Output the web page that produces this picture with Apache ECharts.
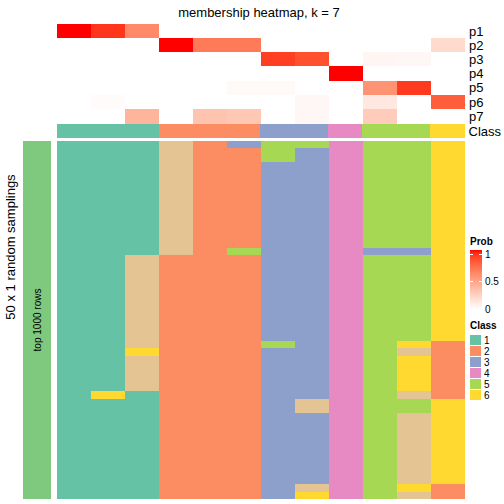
<!DOCTYPE html>
<html>
<head>
<meta charset="utf-8">
<script src="https://cdn.jsdelivr.net/npm/echarts@6/dist/echarts.min.js"></script>
<style>html,body{margin:0;padding:0;background:#fff}#c{width:504px;height:504px}#c svg path{shape-rendering:crispEdges}</style>
</head>
<body>
<div id="c"></div>
<script>
// ---- data ----
const columns = ['s1','s2','s3','s4','s5','s6','s7','s8','s9','s10','s11','s12'];
const probRows = ['p1','p2','p3','p4','p5','p6','p7'];
const p1 = [1.00, 0.92, 0.60, 0, 0, 0, 0, 0, 0, 0, 0, 0];
const p2 = [0, 0, 0, 1.00, 0.67, 0.67, 0, 0, 0, 0, 0, 0.19];
const p3 = [0, 0, 0, 0, 0, 0, 0.90, 0.84, 0, 0.05, 0.04, 0];
const p4 = [0, 0, 0, 0, 0, 0, 0, 0, 1.00, 0, 0, 0];
const p5 = [0, 0, 0, 0, 0, 0.03, 0.03, 0, 0, 0.55, 0.91, 0];
const p6 = [0, 0.02, 0, 0, 0, 0, 0, 0.04, 0, 0.12, 0, 0.79];
const p7 = [0, 0, 0.39, 0, 0.31, 0.29, 0, 0.04, 0, 0.27, 0, 0];
const classRow = [1, 1, 1, 2, 2, 2, 3, 3, 4, 5, 5, 6];
// 50 random samplings: one string per column, one char per sampling (row), 7 = unassigned class
const samplingCols = [
  '11111111111111111111111111111111111111111111111111',
  '11111111111111111111111111111111111611111111111111',
  '11111111111111117777777777777677777111111111111111',
  '77777777777777772222222222222222222222222222222222',
  '22222222222222222222222222222222222222222222222222',
  '32222222222222252222222222222222222222222222222222',
  '55533333333333333333333333335333333333333333333333',
  '53333333333333333333333333333333333377333333333376',
  '44444444444444444444444444444444444444444444444444',
  '55555555555555535555555555555555555555555555555555',
  '55555555555555535555555555556766666755777777777767',
  '66666666666666666666666666662222222266666666666622'
];
const classLabels = ['1','2','3','4','5','6'];
const classColors = ['#66C2A5','#FC8D62','#8DA0CB','#E78AC3','#A6D854','#FFD92F'];
const probTicks = ['1','0.5','0'];

// ---- colour ramp white -> red in LAB ----
function lab2rgb(L,a,b){
  const fy=(L+16)/116, fx=fy+a/500, fz=fy-b/200;
  const f=t=> t*t*t>0.008856 ? t*t*t : (t-16/116)/7.787;
  const X=0.95047*f(fx), Y=f(fy), Z=1.08883*f(fz);
  const r=3.2406*X-1.5372*Y-0.4986*Z, g=-0.9689*X+1.8758*Y+0.0415*Z, bb=0.0557*X-0.2040*Y+1.0570*Z;
  const gam=c=>{c=Math.min(1,Math.max(0,c));return Math.round(255*(c<=0.0031308?12.92*c:1.055*Math.pow(c,1/2.4)-0.055));};
  return 'rgb('+gam(r)+','+gam(g)+','+gam(bb)+')';
}
const ramp=[];
for(let i=0;i<=20;i++){const t=i/20;ramp.push(lab2rgb(100-t*(100-53.24),t*80.09,t*67.20));}

const probAll=[p1,p2,p3,p4,p5,p6,p7];
const probData=[];
probAll.forEach((row,r)=>row.forEach((v,c)=>probData.push([c,r,v])));
const classData=classRow.map((v,c)=>[c,0,v]);
const rowIdx=[];for(let i=0;i<50;i++)rowIdx.push(String(i));
const mainData=[];
samplingCols.forEach((s,c)=>{for(let r=0;r<s.length;r++)mainData.push([c,r,+s[r]]);});

const FONT="'Liberation Sans', Arial, sans-serif";
const chart=echarts.init(document.getElementById('c'),null,{renderer:'svg'});
const hidX=i=>({type:'category',gridIndex:i,data:columns,show:false});
chart.setOption({
  animation:false,
  textStyle:{fontFamily:FONT},
  grid:[
    {left:57,width:408,top:24,height:99.5},
    {left:57,width:408,top:124.5,height:13.3},
    {left:57,width:408,top:141,height:358},
    {left:23,width:28,top:141,height:358}
  ],
  xAxis:[hidX(0),hidX(1),hidX(2),{type:'category',gridIndex:3,data:['a'],show:false}],
  yAxis:[
    {type:'category',gridIndex:0,data:probRows,inverse:true,position:'right',axisLine:{show:false},axisTick:{show:false},
     axisLabel:{interval:0,fontSize:13,color:'#000',margin:4,fontFamily:FONT}},
    {type:'category',gridIndex:1,data:['Class'],position:'right',axisLine:{show:false},axisTick:{show:false},
     axisLabel:{interval:0,fontSize:13,color:'#000',margin:4,fontFamily:FONT}},
    {type:'category',gridIndex:2,data:rowIdx,inverse:true,show:false},
    {type:'category',gridIndex:3,data:['a'],show:false}
  ],
  visualMap:[
    {type:'continuous',min:0,max:1,seriesIndex:[0],show:false,inRange:{color:ramp}},
    {type:'piecewise',seriesIndex:[1,2],show:true,orient:'vertical',inverse:true,align:'left',left:470,top:335,
     itemWidth:11,itemHeight:10,itemGap:1,itemSymbol:'rect',textGap:3,selectedMode:false,padding:0,
     textStyle:{fontSize:10,color:'#000',fontFamily:FONT},
     pieces:classLabels.map((l,i)=>({value:+l,label:l,color:classColors[i]})),
     outOfRange:{color:'#E5C494'}}
  ],
  series:[
    {type:'heatmap',xAxisIndex:0,yAxisIndex:0,data:probData,itemStyle:{borderWidth:0}},
    {type:'heatmap',xAxisIndex:1,yAxisIndex:1,data:classData,itemStyle:{borderWidth:0}},
    {type:'heatmap',xAxisIndex:2,yAxisIndex:2,data:mainData,itemStyle:{borderWidth:0}},
    {type:'heatmap',xAxisIndex:3,yAxisIndex:3,data:[[0,0,1]],itemStyle:{color:'#7FC97F',borderWidth:0}}
  ],
  graphic:[
    {type:'text',z:100,x:259,y:12,style:{text:'membership heatmap, k = 7',font:'13px '+FONT,fill:'#000',textAlign:'center',textVerticalAlign:'middle'}},
    {type:'text',z:100,x:10,y:247,rotation:Math.PI/2,style:{text:'50 x 1 random samplings',font:'13px '+FONT,fill:'#000',textAlign:'center',textVerticalAlign:'middle'}},
    {type:'text',z:100,x:37,y:320,rotation:Math.PI/2,style:{text:'top 1000 rows',font:'10px '+FONT,fill:'#000',textAlign:'center',textVerticalAlign:'middle'}},
    {type:'text',z:100,x:470,y:241,style:{text:'Prob',font:'bold 10px '+FONT,fill:'#000',textVerticalAlign:'middle'}},
    {type:'rect',z:100,shape:{x:470,y:250,width:12,height:59},style:{fill:new echarts.graphic.LinearGradient(0,1,0,0,ramp.map((c,i)=>({offset:i/(ramp.length-1),color:c})))}},
    {type:'line',z:101,shape:{x1:470,y1:254,x2:473,y2:254},style:{stroke:'#fff',lineWidth:1}},
    {type:'line',z:101,shape:{x1:479,y1:254,x2:482,y2:254},style:{stroke:'#fff',lineWidth:1}},
    {type:'line',z:101,shape:{x1:470,y1:281.5,x2:473,y2:281.5},style:{stroke:'#fff',lineWidth:1}},
    {type:'line',z:101,shape:{x1:479,y1:281.5,x2:482,y2:281.5},style:{stroke:'#fff',lineWidth:1}},
    {type:'text',z:100,x:485,y:254,style:{text:probTicks[0],font:'10px '+FONT,fill:'#000',textVerticalAlign:'middle'}},
    {type:'text',z:100,x:485,y:281.5,style:{text:probTicks[1],font:'10px '+FONT,fill:'#000',textVerticalAlign:'middle'}},
    {type:'text',z:100,x:485,y:309,style:{text:probTicks[2],font:'10px '+FONT,fill:'#000',textVerticalAlign:'middle'}},
    {type:'text',z:100,x:470,y:325,style:{text:'Class',font:'bold 10px '+FONT,fill:'#000',textVerticalAlign:'middle'}}
  ]
});
</script>
</body>
</html>
